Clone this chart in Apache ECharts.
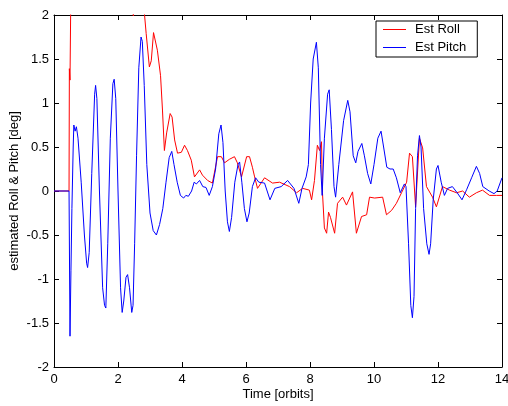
<!DOCTYPE html>
<html>
<head>
<meta charset="utf-8">
<script src="https://cdn.jsdelivr.net/npm/echarts/dist/echarts.min.js"></script>
<style>
  html, body { margin: 0; padding: 0; background: #fff; }
  #chart { width: 508px; height: 406px; }
</style>
</head>
<body>
<div id="chart"></div>
<script>
// time [orbits], estimated angle [deg]
const rollPoints = [
  [0, 0], [0.47, 0], [0.48, 1.39], [0.5, 1.26], [0.52, 2.0], [0.55, 2.6], [1.0, 3.2],
  [2.0, 2.6], [2.42, 2.1], [2.48, 1.99], [2.55, 2.2], [2.7, 2.5], [2.83, 2.0],
  [2.88, 1.79], [2.98, 1.41], [3.04, 1.48], [3.11, 1.8], [3.17, 1.8], [3.23, 1.6],
  [3.33, 1.31], [3.39, 0.92], [3.45, 0.46], [3.52, 0.66], [3.63, 0.88], [3.69, 0.84],
  [3.77, 0.58], [3.86, 0.43], [3.98, 0.44], [4.08, 0.52], [4.17, 0.46], [4.29, 0.35],
  [4.39, 0.16], [4.55, 0.24], [4.64, 0.18], [4.8, 0.12], [4.95, 0.09], [5.11, 0.39],
  [5.23, 0.39], [5.33, 0.32], [5.48, 0.36], [5.64, 0.39], [5.73, 0.32], [5.86, 0.16],
  [6.02, 0.39], [6.11, 0.39], [6.2, 0.27], [6.27, 0.16], [6.36, 0.03], [6.58, 0.15],
  [6.83, 0.09], [7.05, 0.1], [7.36, 0.05], [7.58, -0.02], [7.77, 0.03], [7.98, 0.01],
  [8.05, -0.1], [8.14, 0.12], [8.23, 0.52], [8.3, 0.46], [8.36, 0.56], [8.39, -0.02],
  [8.45, -0.42], [8.52, -0.48], [8.58, -0.24], [8.64, -0.3], [8.77, -0.48], [8.86, -0.14],
  [9.02, -0.07], [9.14, -0.16], [9.33, -0.01], [9.45, -0.48], [9.61, -0.29], [9.77, -0.27],
  [9.86, -0.07], [10.02, -0.08], [10.27, -0.07], [10.39, -0.27], [10.55, -0.22],
  [10.7, -0.14], [10.86, -0.02], [11.02, 0.1], [11.11, 0.43], [11.2, 0.39], [11.3, -0.18],
  [11.42, 0.6], [11.52, 0.49], [11.64, 0.05], [11.83, -0.07], [11.95, -0.18], [12.14, 0.05],
  [12.36, 0.01], [12.58, -0.02], [12.77, 0], [12.98, -0.07], [13.2, -0.02], [13.39, 0.01],
  [13.61, -0.05], [13.83, -0.05], [14.0, -0.05]
];

const pitchPoints = [
  [0, 0], [0.47, 0], [0.5, -1.65], [0.53, -0.9], [0.56, -0.2], [0.6, 0.5], [0.62, 0.75],
  [0.66, 0.68], [0.7, 0.73], [0.75, 0.6], [0.85, 0.1], [0.95, -0.5], [1.02, -0.82],
  [1.05, -0.87], [1.1, -0.7], [1.18, 0.2], [1.27, 1.1], [1.3, 1.2], [1.34, 1.05], [1.42, 0],
  [1.52, -1.1], [1.58, -1.3], [1.62, -1.33], [1.68, -0.6], [1.76, 0.6], [1.84, 1.22],
  [1.88, 1.27], [1.93, 1.05], [2.0, 0], [2.08, -1.1], [2.13, -1.38], [2.18, -1.25],
  [2.25, -0.98], [2.3, -0.95], [2.36, -1.1], [2.43, -1.38], [2.47, -1.3], [2.52, -0.6],
  [2.58, 0.4], [2.65, 1.4], [2.72, 1.75], [2.76, 1.7], [2.82, 1.2], [2.9, 0.3], [3.0, -0.25],
  [3.1, -0.45], [3.2, -0.5], [3.3, -0.38], [3.4, -0.2], [3.5, 0.1], [3.6, 0.38], [3.68, 0.45],
  [3.75, 0.3], [3.85, 0.1], [3.95, -0.05], [4.05, -0.08], [4.12, -0.05], [4.2, -0.06],
  [4.3, 0], [4.38, 0.1], [4.45, 0.08], [4.55, 0.12], [4.65, 0.05], [4.75, 0.04], [4.85, -0.05],
  [4.9, -0.07], [4.95, 0.05], [5.05, 0.25], [5.15, 0.65], [5.22, 0.75], [5.28, 0.55],
  [5.35, 0], [5.42, -0.35], [5.48, -0.46], [5.55, -0.3], [5.65, 0.1], [5.75, 0.3], [5.8, 0.33],
  [5.87, 0.1], [5.95, -0.2], [6.03, -0.35], [6.1, -0.25], [6.2, 0.05], [6.3, 0.15], [6.4, 0.1],
  [6.58, 0.09], [6.75, -0.1], [6.9, 0.03], [7.1, 0.05], [7.3, 0.12], [7.5, 0.03], [7.65, -0.14],
  [7.75, 0.03], [7.88, 0.16], [7.95, 0.3], [8.02, 1.0], [8.1, 1.5], [8.2, 1.69], [8.26, 1.4],
  [8.33, 0.3], [8.38, -0.05], [8.45, 0.6], [8.55, 1.1], [8.6, 1.15], [8.67, 0.7], [8.75, 0.05],
  [8.8, -0.07], [8.9, 0.3], [9.05, 0.8], [9.18, 1.03], [9.25, 0.9], [9.35, 0.4], [9.43, 0.32],
  [9.5, 0.45], [9.62, 0.54], [9.7, 0.4], [9.8, 0.2], [9.9, 0.08], [10.0, 0.3], [10.12, 0.6],
  [10.22, 0.68], [10.3, 0.5], [10.4, 0.27], [10.5, 0.25], [10.6, 0.25], [10.7, 0.15],
  [10.82, -0.02], [10.95, 0.08], [11.0, 0.05], [11.08, -0.6], [11.15, -1.3], [11.2, -1.44],
  [11.25, -1.2], [11.3, -0.2], [11.36, 0.4], [11.42, 0.63], [11.47, 0.5], [11.55, -0.2],
  [11.65, -0.6], [11.72, -0.72], [11.77, -0.6], [11.85, -0.1], [11.95, 0.25], [12.0, 0.29],
  [12.1, 0.1], [12.2, -0.05], [12.3, 0.03], [12.45, 0.05], [12.6, -0.02], [12.75, -0.1],
  [12.9, 0.02], [13.05, 0.15], [13.2, 0.28], [13.3, 0.2], [13.4, 0.05], [13.6, 0],
  [13.75, -0.03], [13.85, 0], [14, 0.15]
];

const font = 'Liberation Sans, Arial, sans-serif';

const boxAxis = (extra) => Object.assign({
  type: 'value',
  splitLine: { show: false },
  axisLine: { show: true, onZero: false, lineStyle: { color: '#000', width: 1 } },
  axisTick: { show: true, inside: true, length: 5, lineStyle: { color: '#000' } },
  axisLabel: { color: '#000', fontFamily: font, fontSize: 13 },
}, extra);

const chart = echarts.init(document.getElementById('chart'));
chart.setOption({
  animation: false,
  backgroundColor: '#fff',
  grid: { left: 54, right: 6, top: 15, bottom: 39, containLabel: false, outerBoundsMode: 'none' },
  legend: {
    orient: 'vertical',
    left: 376,
    top: 21,
    padding: [2, 11, 3, 7],
    itemGap: 5,
    itemWidth: 23,
    itemHeight: 1,
    icon: 'rect',
    borderColor: '#000',
    borderWidth: 1,
    backgroundColor: '#fff',
    textStyle: { color: '#000', fontFamily: font, fontSize: 13, lineHeight: 13, padding: [0, 0, 0, 4] },
    data: ['Est Roll', 'Est Pitch'],
  },
  xAxis: [
    boxAxis({
      min: 0, max: 14, interval: 2,
      name: 'Time [orbits]', nameLocation: 'middle', nameGap: 21, nameMoveOverlap: false,
      nameTextStyle: { color: '#000', fontFamily: font, fontSize: 13 },
      axisLabel: { color: '#000', fontFamily: font, fontSize: 13, margin: 6 },
    }),
    boxAxis({ min: 0, max: 14, interval: 2, position: 'top', axisLabel: { show: false } }),
  ],
  yAxis: [
    boxAxis({
      min: -2, max: 2, interval: 0.5,
      name: 'estimated Roll & Pitch [deg]', nameLocation: 'middle', nameGap: 33, nameMoveOverlap: false,
      nameTextStyle: { color: '#000', fontFamily: font, fontSize: 13 },
      axisLabel: { color: '#000', fontFamily: font, fontSize: 13, margin: 5 },
    }),
    boxAxis({ min: -2, max: 2, interval: 0.5, position: 'right', axisLabel: { show: false } }),
  ],
  series: [
    {
      name: 'Est Roll', type: 'line', data: rollPoints,
      xAxisIndex: 0, yAxisIndex: 0,
      symbol: 'none', clip: true, color: '#ff0000',
      lineStyle: { width: 1, color: '#ff0000' },
    },
    {
      name: 'Est Pitch', type: 'line', data: pitchPoints,
      xAxisIndex: 0, yAxisIndex: 0,
      symbol: 'none', clip: true, color: '#0000ff',
      lineStyle: { width: 1, color: '#0000ff' },
    },
  ],
});
</script>
</body>
</html>
